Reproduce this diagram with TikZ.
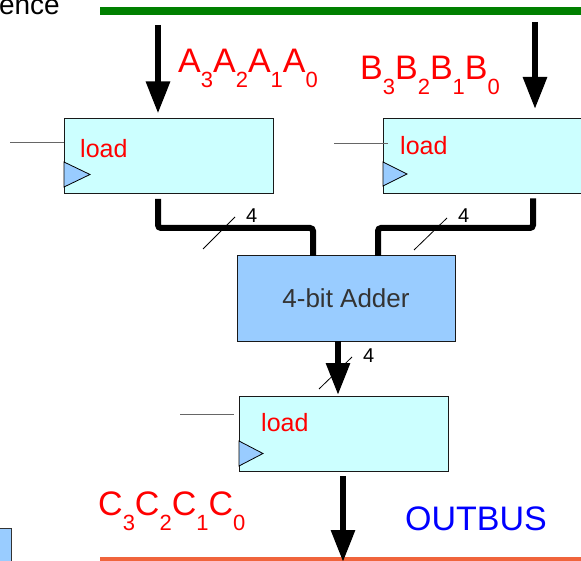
\documentclass[tikz,border=0pt]{standalone}
\usepackage{fontspec}
\setmainfont{Liberation Sans}
\usetikzlibrary{arrows.meta}
\definecolor{regfill}{HTML}{CCFFFF}
\definecolor{addfill}{HTML}{99CCFF}
\definecolor{busgreen}{HTML}{008000}
\definecolor{busorange}{HTML}{F0643C}
\definecolor{adtext}{HTML}{333333}
\newcommand{\fs}[1]{\fontsize{#1}{#1}\selectfont}
\newcommand{\lsub}[1]{\raisebox{-15pt}{\fs{22}#1}}
\begin{document}
\begin{tikzpicture}[x=1pt,y=-1pt,
  reg/.style={draw=black!90, line width=1pt, fill=regfill, minimum width=209pt, minimum height=75pt, inner sep=0pt, outer sep=0pt},
  adder/.style={draw=black!90, line width=1pt, fill=addfill, minimum width=218pt, minimum height=85pt, inner sep=0pt, outer sep=0pt, text=adtext, font=\fs{26}},
  bigarrow/.style={line width=6pt, -{Triangle[length=32pt,width=23pt]}},
  bus/.style={line width=6pt, rounded corners=3pt},
  ctl/.style={draw=black!60, line width=1pt},
  clk/.style={draw=black, line width=0.8pt, fill=addfill},
  slash/.style={line width=0.8pt},
  wlabel/.style={font=\fs{20}, inner sep=0pt, anchor=base west},
  loadlbl/.style={text=red, font=\fs{25}, inner sep=0pt, anchor=base west},
  sigtxt/.style={text=red, font=\fs{34}, inner sep=0pt, anchor=base west},
]
\useasboundingbox (0,0) rectangle (581,561);

% buses
\draw[line width=8pt, busgreen] (100,11) -- (590,11);
\draw[line width=6pt, busorange] (100,560) -- (590,560);

\node[font=\fs{28}, anchor=base east, inner sep=0pt] (seq) at (60,15) {ence};

% registers and adder
\node[reg] (reg1) at (168.5,156.5) {};
\node[reg] (reg2) at (487.5,156) {};
\node[adder] (adder) at (346,298.5) {4-bit Adder};
\node[reg] (reg3) at (343.5,433.5) {};

% clock triangles
\filldraw[clk] (64,187) -- (90,174.5) -- (64,162) -- cycle;
\filldraw[clk] (383,186) -- (407,174) -- (383,162) -- cycle;
\filldraw[clk] (239,466) -- (263,453.5) -- (239,441) -- cycle;

% load labels and control lines
\node[loadlbl] (ld1) at (80,158) {load};
\node[loadlbl] (ld2) at (400,155) {load};
\node[loadlbl] (ld3) at (261,431) {load};
\coordinate (c1) at (10,143);
\coordinate (c2) at (334,144);
\coordinate (c3) at (180,414);
\draw[ctl] (c1) -- (c1 -| reg1.west);
\draw[ctl] (c2) -- ([xshift=5pt]c2 -| reg2.west);
\draw[ctl] (c3) -- ([xshift=-5pt]c3 -| reg3.west);

% signal labels
\node[sigtxt] (alab) at (178,73) {A\lsub{3}A\lsub{2}A\lsub{1}A\lsub{0}};
\node[sigtxt] (blab) at (360,80) {B\lsub{3}B\lsub{2}B\lsub{1}B\lsub{0}};
\node[sigtxt] (clab) at (98,515) {C\lsub{3}C\lsub{2}C\lsub{1}C\lsub{0}};
\node[text=blue, font=\fs{34}, anchor=base west, inner sep=0pt] (outbus) at (405,530) {OUTBUS};

% input arrows
\coordinate (aTop) at (158,25);
\coordinate (bTop) at (535,22);
\draw[bigarrow, shorten >=5.5pt] (aTop) -- (aTop |- reg1.north);
\draw[bigarrow, shorten >=9.5pt] (bTop) -- (bTop |- reg2.north);

% buses to adder
\coordinate (j1) at (313,228);
\coordinate (j2) at (378,228);
\draw[bus, shorten <=5pt] (reg1.south -| aTop) |- (j1) -- (j1 |- adder.north);
\draw[bus, shorten <=5pt] (reg2.south -| 533,0) |- (j2) -- (j2 |- adder.north);

% adder to reg3
\coordinate (sx) at (338,0);
\draw[bigarrow, shorten >=1pt] (adder.south -| sx) -- (reg3.north -| sx);

% output arrow
\coordinate (ob) at (343,562);
\draw[bigarrow, shorten <=5pt] (reg3.south -| ob) -- (ob);

% width slashes
\draw[slash] (203,249) -- (235,217);
\node[wlabel] (w1) at (246,223) {4};
\draw[slash] (414,250) -- (447,218);
\node[wlabel] (w2) at (458,223) {4};
\draw[slash] (319,389) -- (352,357);
\node[wlabel] (w3) at (363,362) {4};

% partial box at bottom-left
\filldraw[fill=addfill, draw=black!80, line width=1pt] (-5,528) rectangle (11,570);
\end{tikzpicture}
\end{document}
